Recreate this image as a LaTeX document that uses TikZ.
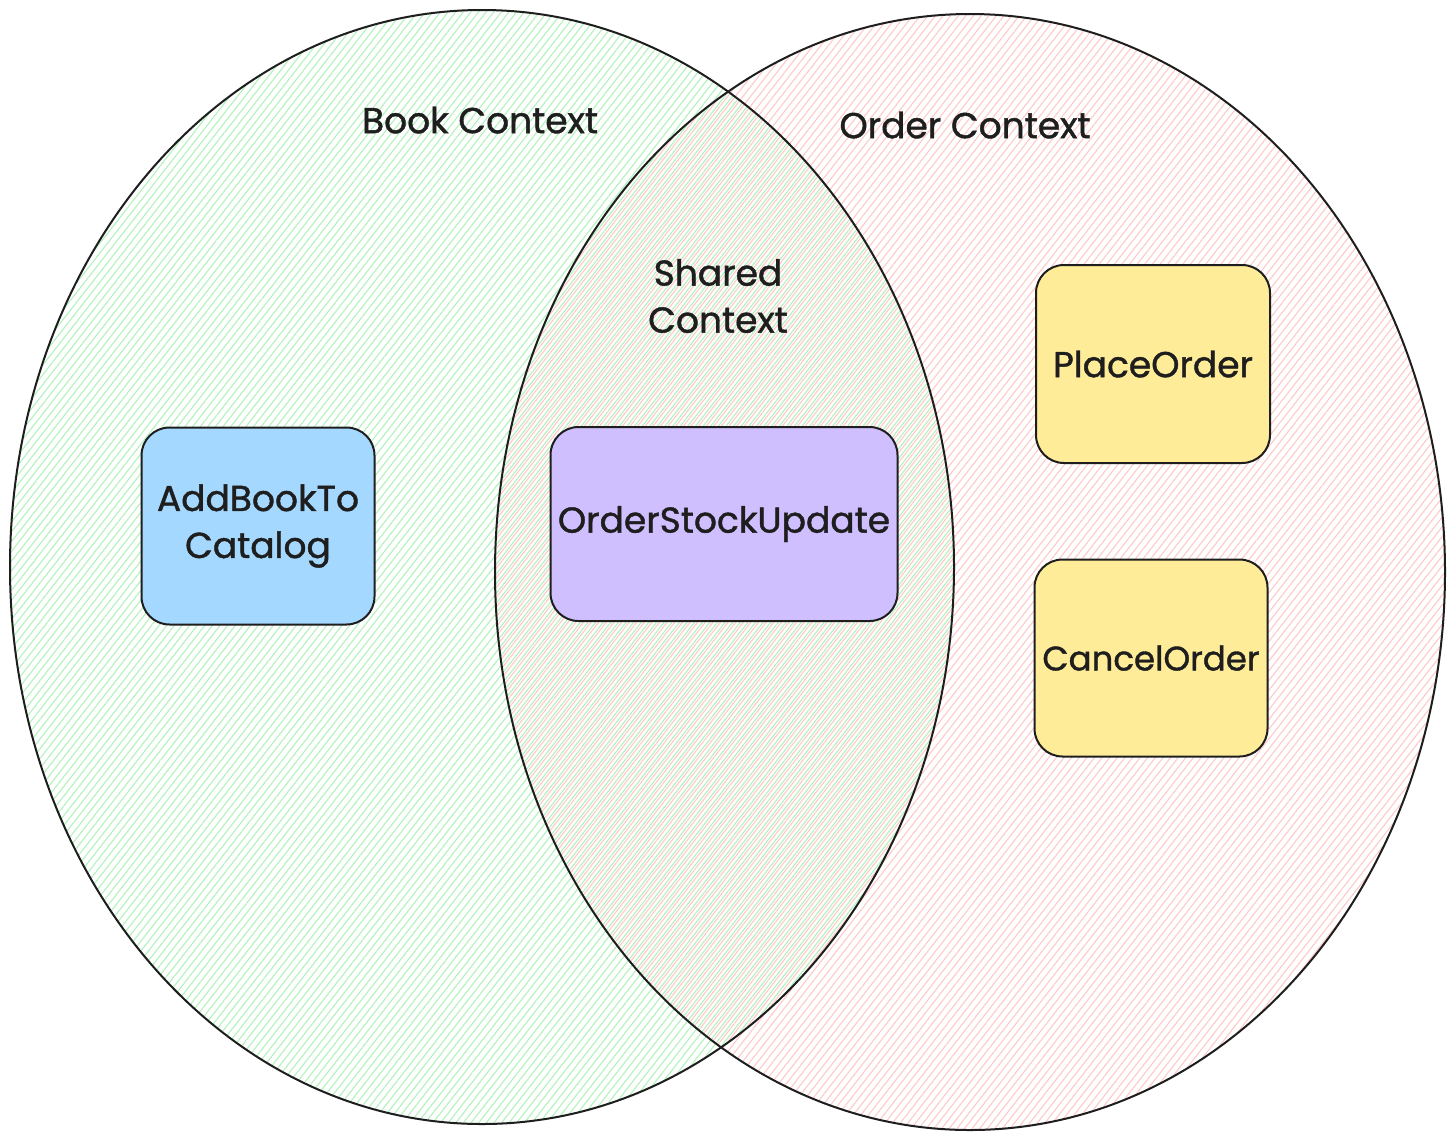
\documentclass[tikz,border=0pt]{standalone}
\usepackage{fontspec}
\setmainfont{Poppins}[FakeBold=1.2]
\usetikzlibrary{patterns.meta}
\definecolor{hatchgreen}{HTML}{B2F2BB}
\definecolor{hatchred}{HTML}{FFC9C9}
\definecolor{boxblue}{HTML}{A5D8FF}
\definecolor{boxpurple}{HTML}{D0BFFF}
\definecolor{boxyellow}{HTML}{FFEC99}
\definecolor{ink}{HTML}{1E1E1E}
\begin{document}
\begin{tikzpicture}[x=1pt,y=-1pt,
  ctx/.style={line width=2pt, draw=ink},
  hatchA/.style={pattern={Lines[angle=52,distance=6pt,line width=1.1pt]}},
  hatchB/.style={pattern={Lines[angle=52,distance=6pt,line width=1.1pt,xshift=3pt]}},
  box/.style={draw=ink, line width=2pt, rounded corners=28pt, align=center, inner sep=0pt,
    font=\fontsize{36}{47}\selectfont, text=ink},
  lbl/.style={align=center, inner sep=0pt, font=\fontsize{36}{47}\selectfont, text=ink}]
\useasboundingbox[fill=white] (0,0) rectangle (1456,1141);
% hatched context areas
\path[hatchA, pattern color=hatchgreen] (482,567) ellipse [x radius=472pt, y radius=557pt];
\path[hatchB, pattern color=hatchred] (970,572) ellipse [x radius=475pt, y radius=558pt];
\draw[ctx] (482,567) ellipse [x radius=472pt, y radius=557pt];
\draw[ctx] (970,572) ellipse [x radius=475pt, y radius=558pt];
% labels
\node[lbl] (book) at (480,120) {Book Context};
\node[lbl] (order) at (965,125) {Order Context};
\node[lbl] (shared) at (718,296) {Shared\\Context};
% boxes
\node[box, fill=boxblue, minimum width=233pt, minimum height=197pt] (add) at (258,526) {AddBookTo\\Catalog};
\node[box, fill=boxpurple, minimum width=347pt, minimum height=194pt] (stock) at (724,524) {OrderStockUpdate};
\node[box, fill=boxyellow, minimum width=234pt, minimum height=198pt] (place) at (1153,364) {PlaceOrder};
\node[box, fill=boxyellow, minimum width=233pt, minimum height=197pt, font=\fontsize{34}{47}\selectfont] (cancel) at (1151,658) {CancelOrder};
\end{tikzpicture}
\end{document}
